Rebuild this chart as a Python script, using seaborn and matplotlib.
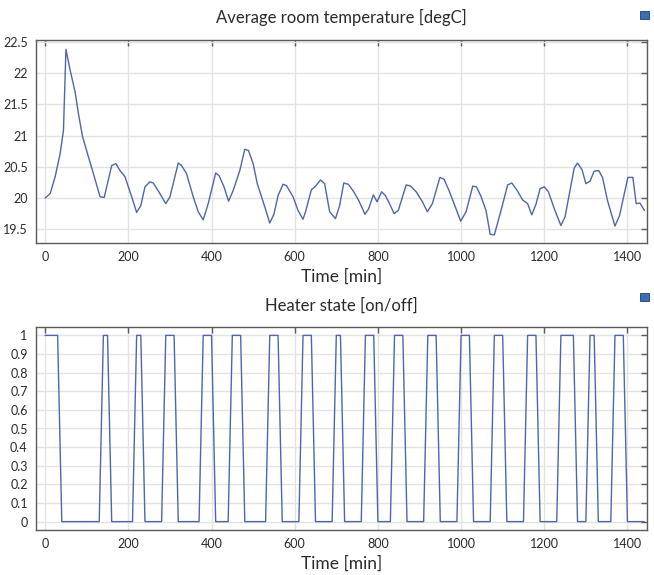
import numpy as np
import pandas as pd
import matplotlib
matplotlib.use("Agg")
import matplotlib.pyplot as plt
import seaborn as sns
from matplotlib.patches import Rectangle

# ---------------- data ----------------
temp_time = [0, 12, 24, 36, 44, 50, 60, 72, 80, 90, 104, 116, 132, 142, 160, 170, 180, 192,
             208, 220, 230, 240, 252, 260, 276, 290, 300, 320, 328, 340, 356, 368, 380, 392,
             410, 418, 430, 441, 452, 468, 480, 489, 500, 510, 528, 540, 550, 560, 572, 580,
             596, 608, 620, 626, 640, 650, 662, 672, 684, 698, 708, 718, 729, 742, 754, 769,
             778, 789, 798, 809, 818, 828, 839, 849, 868, 879, 892, 907, 919, 931, 949, 959,
             971, 986, 999, 1012, 1028, 1037, 1047, 1060, 1070, 1080, 1096, 1112, 1122, 1134,
             1148, 1160, 1170, 1180, 1190, 1200, 1210, 1224, 1240, 1250, 1272, 1280, 1291,
             1300, 1310, 1320, 1331, 1340, 1352, 1370, 1381, 1401, 1413, 1421, 1430, 1441]
temp_value = [20.00, 20.07, 20.34, 20.71, 21.08, 22.38, 22.05, 21.70, 21.35, 20.98, 20.66,
              20.39, 20.02, 20.01, 20.52, 20.55, 20.44, 20.34, 20.02, 19.77, 19.88, 20.18,
              20.26, 20.24, 20.07, 19.91, 20.02, 20.56, 20.52, 20.39, 20.02, 19.78, 19.65,
              19.91, 20.40, 20.36, 20.18, 19.95, 20.12, 20.44, 20.78, 20.76, 20.55, 20.23,
              19.86, 19.60, 19.74, 20.04, 20.22, 20.20, 20.02, 19.80, 19.66, 19.78, 20.13,
              20.19, 20.29, 20.23, 19.78, 19.67, 19.88, 20.24, 20.22, 20.10, 19.96, 19.74,
              19.83, 20.05, 19.94, 20.10, 20.04, 19.91, 19.75, 19.80, 20.21, 20.19, 20.10,
              19.94, 19.78, 19.91, 20.33, 20.30, 20.12, 19.86, 19.63, 19.78, 20.19, 20.18,
              20.04, 19.80, 19.42, 19.41, 19.80, 20.21, 20.24, 20.13, 19.97, 19.91, 19.73,
              19.90, 20.15, 20.18, 20.10, 19.83, 19.56, 19.70, 20.48, 20.56, 20.45, 20.23,
              20.27, 20.43, 20.44, 20.33, 19.96, 19.55, 19.72, 20.33, 20.33, 19.91, 19.92,
              19.80]

heater_time = list(range(0, 1450, 10))
heater_state = [1, 1, 1, 1, 0, 0, 0, 0, 0, 0,
                0, 0, 0, 0, 1, 1, 0, 0, 0, 0,
                0, 0, 1, 1, 0, 0, 0, 0, 0, 1,
                1, 1, 0, 0, 0, 0, 0, 0, 1, 1,
                1, 0, 0, 0, 0, 1, 1, 1, 0, 0,
                0, 0, 0, 0, 1, 1, 1, 0, 0, 0,
                0, 0, 1, 1, 1, 0, 0, 0, 0, 0,
                1, 1, 0, 0, 0, 0, 0, 1, 1, 1,
                0, 0, 0, 0, 1, 1, 1, 0, 0, 0,
                0, 0, 1, 1, 1, 0, 0, 0, 0, 0,
                1, 1, 1, 0, 0, 0, 0, 0, 1, 1,
                1, 0, 0, 0, 0, 0, 1, 1, 1, 0,
                0, 0, 0, 0, 1, 1, 1, 1, 0, 0,
                0, 1, 1, 0, 0, 0, 0, 1, 1, 1,
                0, 0, 0, 0, 0]

x_ticks = [0, 200, 400, 600, 800, 1000, 1200, 1400]
temp_ticks = [19.5, 20, 20.5, 21, 21.5, 22, 22.5]
temp_ticklabels = ["19.5", "20", "20.5", "21", "21.5", "22", "22.5"]
heater_ticks = [0, 0.1, 0.2, 0.3, 0.4, 0.5, 0.6, 0.7, 0.8, 0.9, 1]
heater_ticklabels = ["0", "0.1", "0.2", "0.3", "0.4", "0.5", "0.6", "0.7", "0.8", "0.9", "1"]

title_top = "Average room temperature [degC]"
title_bottom = "Heater state [on/off]"
xlabel = "Time [min]"

# ---------------- style ----------------
sns.set_theme(style="white")
plt.rcParams['font.family'] = ['Lato', 'DejaVu Sans']

LINE = "#4d67aa"
GRID = "#e3e3e3"
SPINE = "#5a5a5a"
TEXT = "#2a2a2a"

W, H = 654, 575
fig = plt.figure(figsize=(W / 100, H / 100), dpi=100)

def px_axes(left, top, right, bottom):
    return fig.add_axes([left / W, 1 - bottom / H, (right - left) / W, (bottom - top) / H])

ax1 = px_axes(36, 40, 647, 243)
ax2 = px_axes(36, 327, 647, 530)

df_t = pd.DataFrame({"time": temp_time, "temp": temp_value})
df_h = pd.DataFrame({"time": heater_time, "state": heater_state})

sns.lineplot(data=df_t, x="time", y="temp", ax=ax1, color=LINE, linewidth=1.0)
sns.lineplot(data=df_h, x="time", y="state", ax=ax2, color=LINE, linewidth=1.0)

ax1.set_xlim(-22, 1447)
ax1.set_ylim(19.28, 22.53)
ax2.set_xlim(-22, 1447)
ax2.set_ylim(-0.045, 1.045)

ax1.set_yticks(temp_ticks)
ax1.set_yticklabels(temp_ticklabels)
ax2.set_yticks(heater_ticks)
ax2.set_yticklabels(heater_ticklabels)

for ax, title in ((ax1, title_top), (ax2, title_bottom)):
    ax.set_xticks(x_ticks)
    ax.set_xticklabels([str(t) for t in x_ticks])
    ax.grid(True, color=GRID, linewidth=1.0)
    ax.set_axisbelow(True)
    for s in ax.spines.values():
        s.set_color(SPINE)
        s.set_linewidth(1.0)
    ax.tick_params(direction="in", length=4, width=1.0, color=SPINE,
                   top=True, right=True, labelsize=9, labelcolor=TEXT, pad=6)
    ax.set_xlabel(xlabel, fontsize=12.5, color=TEXT, labelpad=4)
    ax.set_ylabel("")
    ax.set_title(title, fontsize=12, color=TEXT, pad=12)

# small toolbar icons at top right
for y in (11, 293):
    fig.patches.append(Rectangle((640 / W, 1 - (y + 8) / H), 9 / W, 8 / H,
                                 transform=fig.transFigure, facecolor="#3a6fb5",
                                 edgecolor="#1f3f70", linewidth=0.6))

fig.savefig("out.png", dpi=100)
